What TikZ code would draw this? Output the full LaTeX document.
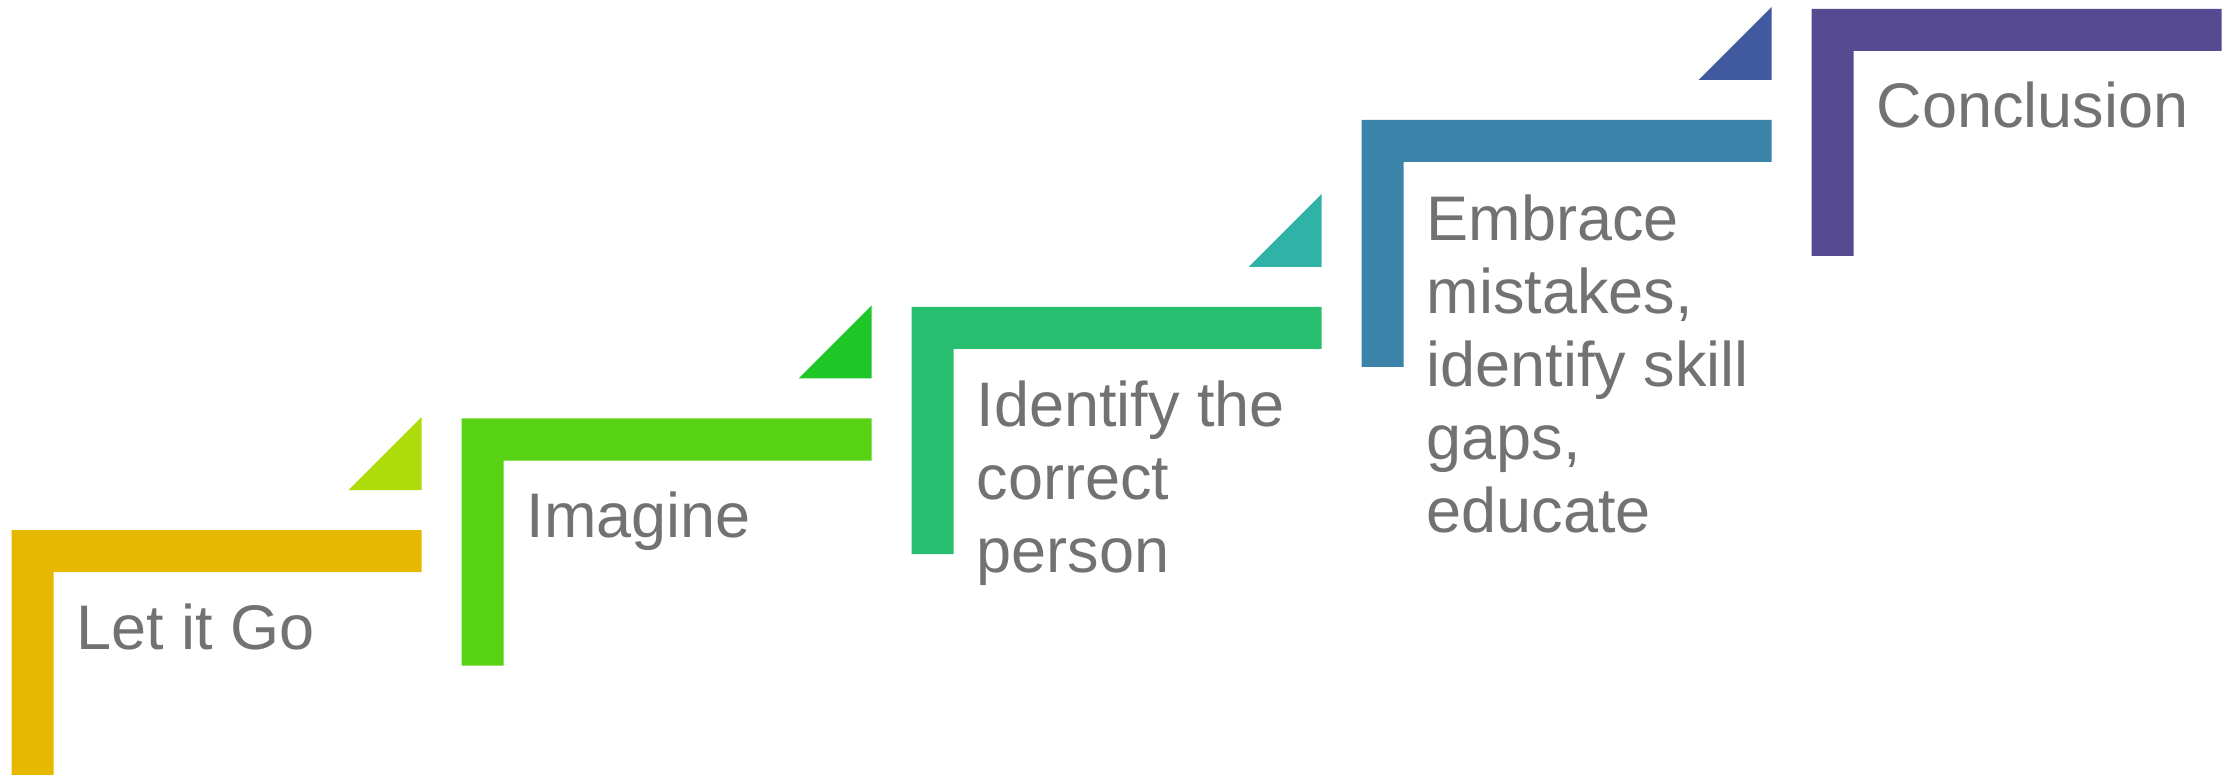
\documentclass[tikz,border=0pt]{standalone}
\usepackage{fontspec}
\setmainfont{Liberation Sans}
\definecolor{stepA}{HTML}{E6B900}
\definecolor{triA}{HTML}{ADDC0A}
\definecolor{stepB}{HTML}{57D314}
\definecolor{triB}{HTML}{1FC627}
\definecolor{stepC}{HTML}{27BE70}
\definecolor{triC}{HTML}{30B3A6}
\definecolor{stepD}{HTML}{3B83A9}
\definecolor{triD}{HTML}{415A9F}
\definecolor{stepE}{HTML}{564B92}
\definecolor{labelgray}{HTML}{727272}
% an L-shaped stair bracket: top-left corner (#1,#2), colour #3
\newcommand\stairL[3]{%
  \fill[#3] (#1,#2) -- ++(410,0) -- ++(0,42) -- ++(-368,0) -- ++(0,205) -- ++(-42,0) -- cycle;}
% the small right triangle above the right end of a bracket
\newcommand\stairTri[3]{%
  \fill[#3] (#1+410,#2-113) -- ++(0,73) -- ++(-73,0) -- cycle;}
\begin{document}
\begin{tikzpicture}[x=1pt,y=-1pt,
  lab/.style={anchor=base west, inner sep=0pt, align=left, text=labelgray,
              font=\fontsize{63}{73}\selectfont}]
\useasboundingbox (0,0) rectangle (2236,775);
\fill[white] (0,0) rectangle (2236,775);
\begin{scope}
\clip (0,0) rectangle (2236,775);
\stairL{11.5}{530}{stepA}
\stairTri{11.5}{530}{triA}
\stairL{461.5}{418.5}{stepB}
\stairTri{461.5}{418.5}{triB}
\stairL{911.5}{307}{stepC}
\stairTri{911.5}{307}{triC}
\stairL{1361.5}{120}{stepD}
\stairTri{1361.5}{120}{triD}
\stairL{1811.5}{9}{stepE}
\end{scope}
% labels are anchored on the baseline of their last line (73pt per line)
\node[lab] (s1) at (76.5,649) {Let it Go};
\node[lab] (s2) at (526.5,537.5) {Imagine};
\node[lab] (s3) at (976.5,572) {Identify the\\correct\\person};
\node[lab] (s4) at (1426.5,532) {Embrace\\mistakes,\\identify skill\\gaps,\\educate};
\node[lab] (s5) at (1876.5,128) {Conclusion};
\end{tikzpicture}
\end{document}
